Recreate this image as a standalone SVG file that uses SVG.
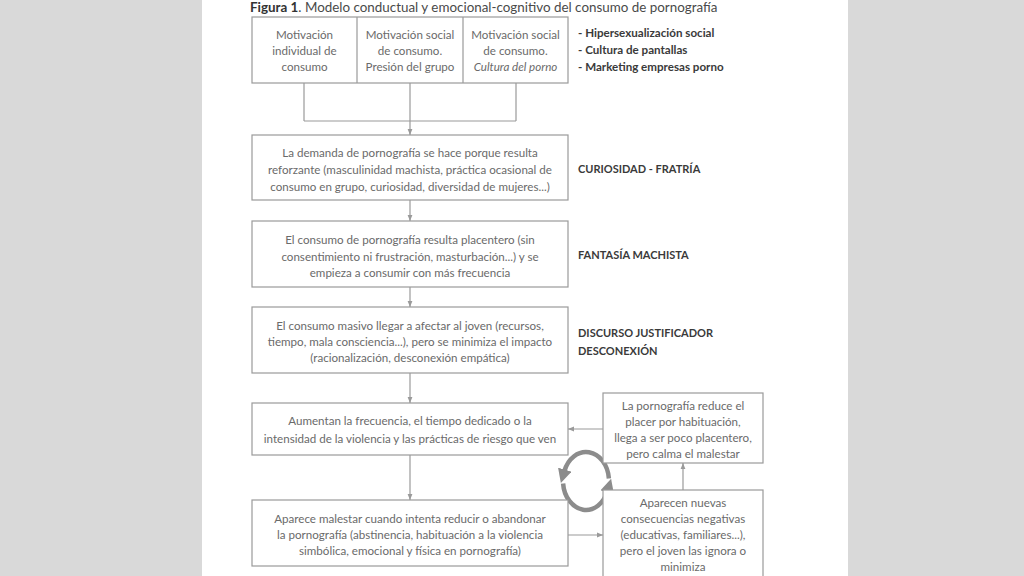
<svg xmlns="http://www.w3.org/2000/svg" width="1024" height="576" viewBox="0 0 1024 576">
<defs>
<style>
.bg{fill:#d9d9d9}
.page{fill:#ffffff}
.box{fill:#ffffff;stroke:#9a9a9a;stroke-width:1.2}
.t{font-family:Lato,"Liberation Sans",sans-serif;font-size:11.6px;fill:#6a6a6a;text-anchor:middle}
.lab{font-family:Lato,"Liberation Sans",sans-serif;font-size:11.6px;font-weight:bold;fill:#3a3a3a}
.cap{font-family:Lato,"Liberation Sans",sans-serif;font-size:11px;font-weight:bold;fill:#3a3a3a}
.title{font-family:Lato,"Liberation Sans",sans-serif;font-size:13.4px;fill:#4a4a4a}
.ln{fill:none;stroke:#9a9a9a;stroke-width:1.2}
.cyc{fill:none;stroke:#8c8c8c;stroke-width:4.5}
</style>
<marker id="ah" viewBox="0 0 10 10" refX="10" refY="5" markerWidth="6" markerHeight="6" orient="auto" markerUnits="userSpaceOnUse">
<path d="M0,1 L10,5 L0,9 z" fill="#9a9a9a"/>
</marker>
<marker id="big" viewBox="0 0 10 10" refX="1" refY="5" markerWidth="14" markerHeight="14" orient="auto" markerUnits="userSpaceOnUse">
<path d="M0,0 L10,5 L0,10 z" fill="#8c8c8c"/>
</marker>
</defs>
<rect class="bg" x="0" y="0" width="1024" height="576"/>
<rect class="page" x="202" y="0" width="646" height="576"/>

<text class="title" x="250" y="12"><tspan font-weight="bold" fill="#333">Figura 1</tspan>. Modelo conductual y emocional-cognitivo del consumo de pornografía</text>

<g id="connectors">
<path class="ln" d="M304,83 V121 M410,83 V121 M516,83 V121 M304,121 H516"/>
<path class="ln" marker-end="url(#ah)" d="M410,121 V135"/>
<path class="ln" marker-end="url(#ah)" d="M410,200 V221"/>
<path class="ln" marker-end="url(#ah)" d="M410,287 V307"/>
<path class="ln" marker-end="url(#ah)" d="M410,373 V403"/>
<path class="ln" marker-end="url(#ah)" d="M410,455 V500"/>
<path class="ln" marker-end="url(#ah)" d="M603,429 H568"/>
<path class="ln" marker-end="url(#ah)" d="M568,535 H603"/>
<path class="ln" marker-end="url(#ah)" d="M683,490 V463"/>
<path class="cyc" marker-end="url(#big)" d="M608.9,478.5 A23,29 0 0 0 564.4,471"/>
<path class="cyc" marker-end="url(#big)" d="M563.1,483.5 A23,29 0 0 0 607.6,490.9"/>
</g>

<g id="top-boxes">
<rect class="box" x="252" y="17" width="316" height="66"/>
<path class="ln" d="M357,17 V83 M463,17 V83"/>
</g>
<g id="mot1">
<text class="t" x="304.5" y="39">Motivación</text>
<text class="t" x="304.5" y="55">individual de</text>
<text class="t" x="304.5" y="71">consumo</text>
</g>
<g id="mot2">
<text class="t" x="410" y="39">Motivación social</text>
<text class="t" x="410" y="55">de consumo.</text>
<text class="t" x="410" y="71">Presión del grupo</text>
</g>
<g id="mot3">
<text class="t" x="515.5" y="39">Motivación social</text>
<text class="t" x="515.5" y="55">de consumo.</text>
<text class="t" x="515.5" y="71" font-style="italic">Cultura del porno</text>
</g>
<g id="factors">
<text class="lab" x="578" y="37">- Hipersexualización social</text>
<text class="lab" x="578" y="54">- Cultura de pantallas</text>
<text class="lab" x="578" y="71">- Marketing empresas porno</text>
</g>

<g id="demanda">
<rect class="box" x="252" y="135" width="316" height="65"/>
<text class="t" x="410" y="157">La demanda de pornografía se hace porque resulta</text>
<text class="t" x="410" y="174">reforzante (masculinidad machista, práctica ocasional de</text>
<text class="t" x="410" y="191">consumo en grupo, curiosidad, diversidad de mujeres...)</text>
</g>
<text class="cap" x="578" y="173">CURIOSIDAD - FRATRÍA</text>

<g id="placentero">
<rect class="box" x="252" y="221" width="316" height="66"/>
<text class="t" x="410" y="244">El consumo de pornografía resulta placentero (sin</text>
<text class="t" x="410" y="261">consentimiento ni frustración, masturbación...) y se</text>
<text class="t" x="410" y="277">empieza a consumir con más frecuencia</text>
</g>
<text class="cap" x="578" y="259">FANTASÍA MACHISTA</text>

<g id="masivo">
<rect class="box" x="252" y="307" width="316" height="66"/>
<text class="t" x="410" y="330">El consumo masivo llegar a afectar al joven (recursos,</text>
<text class="t" x="410" y="346">tiempo, mala consciencia...), pero se minimiza el impacto</text>
<text class="t" x="410" y="362">(racionalización, desconexión empática)</text>
</g>
<text class="cap" x="578" y="337">DISCURSO JUSTIFICADOR</text>
<text class="cap" x="578" y="355">DESCONEXIÓN</text>

<g id="aumentan">
<rect class="box" x="252" y="403" width="316" height="52"/>
<text class="t" x="410" y="425">Aumentan la frecuencia, el tiempo dedicado o la</text>
<text class="t" x="410" y="443">intensidad de la violencia y las prácticas de riesgo que ven</text>
</g>

<g id="malestar">
<rect class="box" x="252" y="500" width="316" height="66"/>
<text class="t" x="410" y="523">Aparece malestar cuando intenta reducir o abandonar</text>
<text class="t" x="410" y="539">la pornografía (abstinencia, habituación a la violencia</text>
<text class="t" x="410" y="555">simbólica, emocional y física en pornografía)</text>
</g>

<g id="reduce">
<rect class="box" x="603" y="393" width="160" height="70"/>
<text class="t" x="683" y="410">La pornografía reduce el</text>
<text class="t" x="683" y="426">placer por habituación,</text>
<text class="t" x="683" y="442">llega a ser poco placentero,</text>
<text class="t" x="683" y="458">pero calma el malestar</text>
</g>

<g id="consecuencias">
<rect class="box" x="603" y="490" width="160" height="95"/>
<text class="t" x="683" y="507">Aparecen nuevas</text>
<text class="t" x="683" y="523">consecuencias negativas</text>
<text class="t" x="683" y="539">(educativas, familiares...),</text>
<text class="t" x="683" y="555">pero el joven las ignora o</text>
<text class="t" x="683" y="571">minimiza</text>
</g>
</svg>
